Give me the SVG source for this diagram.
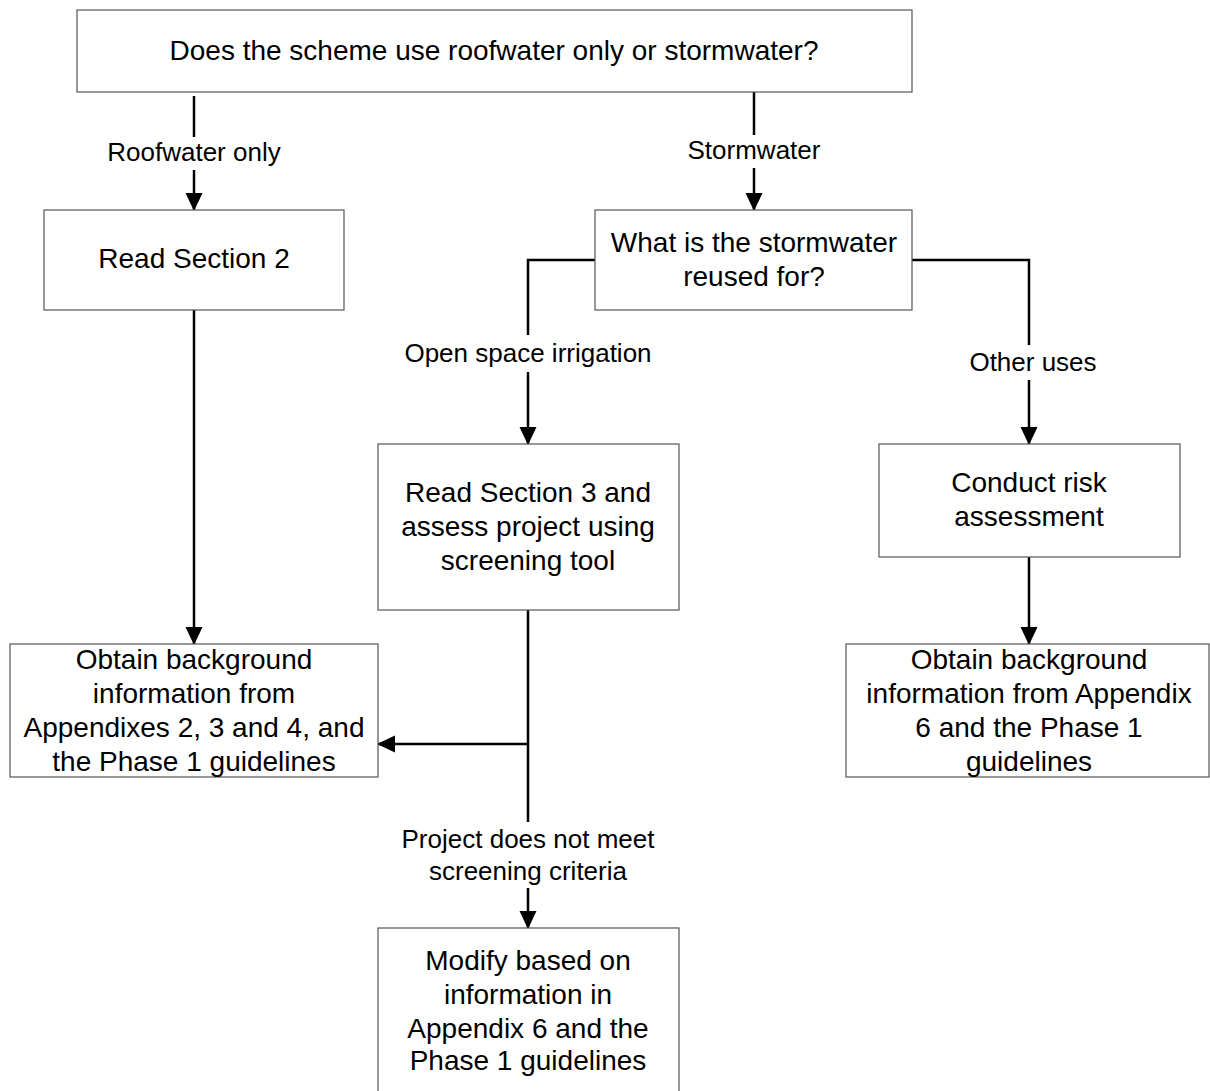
<svg xmlns="http://www.w3.org/2000/svg" width="1210" height="1091" viewBox="0 0 1210 1091">
<defs>
<marker id="arr" markerWidth="18" markerHeight="18" refX="17" refY="8.5" orient="auto" markerUnits="userSpaceOnUse">
<path d="M0,0 L18,8.5 L0,17 Z" fill="#000"/>
</marker>
<style>
.box{fill:#fff;stroke:#555;stroke-width:1.2}
.t{font-family:"Liberation Sans",Arial,sans-serif;font-size:28px;fill:#000;text-anchor:middle}
.l{font-family:"Liberation Sans",Arial,sans-serif;font-size:26px;fill:#000;text-anchor:middle}
.c{fill:none;stroke:#000;stroke-width:2.5}
.ca{fill:none;stroke:#000;stroke-width:2.5;marker-end:url(#arr)}
</style>
</defs>
<rect width="1210" height="1091" fill="#fff"/>
<g id="connectors">
<line class="c" x1="194" y1="96" x2="194" y2="137"/>
<line class="ca" x1="194" y1="170" x2="194" y2="210"/>
<line class="c" x1="754" y1="92" x2="754" y2="135"/>
<line class="ca" x1="754" y1="168" x2="754" y2="210"/>
<line class="ca" x1="194" y1="310" x2="194" y2="644"/>
<polyline class="c" points="595,260 528,260 528,335"/>
<line class="ca" x1="528" y1="372" x2="528" y2="444"/>
<polyline class="c" points="912,260 1029,260 1029,345"/>
<line class="ca" x1="1029" y1="380" x2="1029" y2="444"/>
<line class="ca" x1="1029" y1="557" x2="1029" y2="644"/>
<line class="c" x1="528" y1="610" x2="528" y2="822"/>
<line class="ca" x1="528" y1="744" x2="378" y2="744"/>
<line class="ca" x1="528" y1="888" x2="528" y2="928"/>
<text class="l" x="194" y="161">Roofwater only</text>
<text class="l" x="754" y="159">Stormwater</text>
<text class="l" x="528" y="362">Open space irrigation</text>
<text class="l" x="1033" y="371">Other uses</text>
<text class="l" x="528" y="848">Project does not meet</text>
<text class="l" x="528" y="880">screening criteria</text>
</g>
<g id="n1"><rect class="box" x="77" y="10" width="835" height="82"/>
<text class="t" x="494" y="60">Does the scheme use roofwater only or stormwater?</text></g>
<g id="n2"><rect class="box" x="44" y="210" width="300" height="100"/>
<text class="t" x="194" y="268">Read Section 2</text></g>
<g id="n3"><rect class="box" x="595" y="210" width="317" height="100"/>
<text class="t" x="754" y="252">What is the stormwater</text>
<text class="t" x="754" y="286">reused for?</text></g>
<g id="n4"><rect class="box" x="378" y="444" width="301" height="166"/>
<text class="t" x="528" y="502">Read Section 3 and</text>
<text class="t" x="528" y="536">assess project using</text>
<text class="t" x="528" y="570">screening tool</text></g>
<g id="n5"><rect class="box" x="879" y="444" width="301" height="113"/>
<text class="t" x="1029" y="492">Conduct risk</text>
<text class="t" x="1029" y="526">assessment</text></g>
<g id="n6"><rect class="box" x="10" y="644" width="368" height="133"/>
<text class="t" x="194" y="669">Obtain background</text>
<text class="t" x="194" y="703">information from</text>
<text class="t" x="194" y="737">Appendixes 2, 3 and 4, and</text>
<text class="t" x="194" y="771">the Phase 1 guidelines</text></g>
<g id="n7"><rect class="box" x="846" y="644" width="363" height="133"/>
<text class="t" x="1029" y="669">Obtain background</text>
<text class="t" x="1029" y="703">information from Appendix</text>
<text class="t" x="1029" y="737">6 and the Phase 1</text>
<text class="t" x="1029" y="771">guidelines</text></g>
<g id="n8"><rect class="box" x="378" y="928" width="301" height="170"/>
<text class="t" x="528" y="970">Modify based on</text>
<text class="t" x="528" y="1004">information in</text>
<text class="t" x="528" y="1038">Appendix 6 and the</text>
<text class="t" x="528" y="1070">Phase 1 guidelines</text></g>
</svg>
